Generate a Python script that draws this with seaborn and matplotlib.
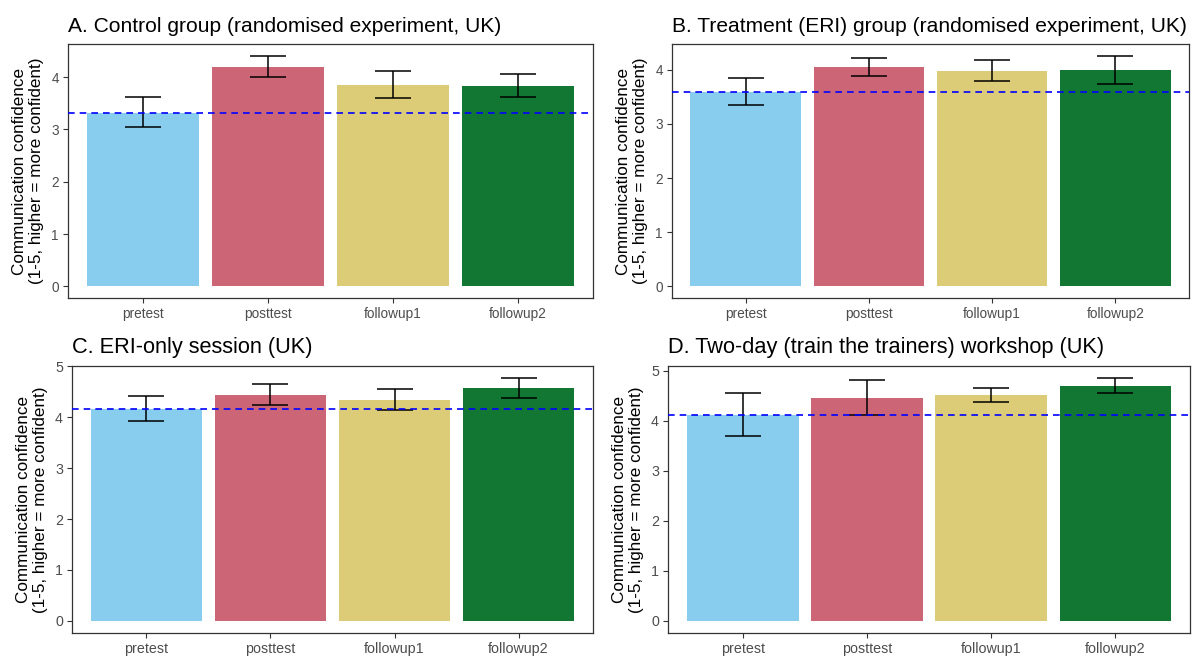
import numpy as np
import pandas as pd
import matplotlib
matplotlib.use("Agg")
import matplotlib.pyplot as plt
import seaborn as sns

# Time points and colours
timepoints = ["pretest", "posttest", "followup1", "followup2"]
bar_colors = ["#88CCEE", "#CC6677", "#DDCC77", "#117733"]

# Panel titles
titles = [
    "A. Control group (randomised experiment, UK)",
    "B. Treatment (ERI) group (randomised experiment, UK)",
    "C. ERI-only session (UK)",
    "D. Two-day (train the trainers) workshop (UK)",
]

# Means and confidence interval bounds for each panel
means_a = [3.32, 4.20, 3.84, 3.83]
lower_a = [3.04, 4.00, 3.59, 3.62]
upper_a = [3.61, 4.41, 4.11, 4.05]

means_b = [3.59, 4.05, 3.98, 3.99]
lower_b = [3.34, 3.89, 3.79, 3.74]
upper_b = [3.85, 4.22, 4.18, 4.26]

means_c = [4.17, 4.44, 4.35, 4.57]
lower_c = [3.93, 4.24, 4.15, 4.38]
upper_c = [4.41, 4.65, 4.56, 4.77]

means_d = [4.12, 4.46, 4.52, 4.70]
lower_d = [3.70, 4.12, 4.37, 4.55]
upper_d = [4.55, 4.82, 4.66, 4.85]

panels = [
    (means_a, lower_a, upper_a),
    (means_b, lower_b, upper_b),
    (means_c, lower_c, upper_c),
    (means_d, lower_d, upper_d),
]

ylabel = "Communication confidence\n(1-5, higher = more confident)"

sns.set_theme(style="white")
plt.rcParams["font.family"] = ["Liberation Sans", "DejaVu Sans"]

fig = plt.figure(figsize=(11.97, 6.57), dpi=100)
W, H = 1197, 657
# axes boxes in pixels: left, top, right, bottom
boxes = [
    (68, 44, 593, 298),
    (672, 44, 1189, 298),
    (72, 366, 593, 633),
    (668, 366, 1190, 633),
]
# text sizes per panel: title, axis label, tick labels
sizes = [
    (15.1, 12.3, 9.8),
    (15.1, 12.3, 9.8),
    (15.7, 12.3, 10.3),
    (15.7, 12.3, 10.3),
]

for (means, lo, hi), title, (l, t, r, b), (ts, ls, ks) in zip(panels, titles, boxes, sizes):
    ax = fig.add_axes([l / W, 1 - b / H, (r - l) / W, (b - t) / H])
    df = pd.DataFrame({"time": timepoints, "mean": means})
    sns.barplot(data=df, x="time", y="mean", hue="time", palette=bar_colors,
                order=timepoints, hue_order=timepoints, width=0.9,
                legend=False, ax=ax, linewidth=0, saturation=1)
    m = np.array(means)
    ax.errorbar(np.arange(len(timepoints)), m,
                yerr=[m - np.array(lo), np.array(hi) - m],
                fmt="none", ecolor="black", elinewidth=1.1,
                capsize=13, capthick=1.1, zorder=5)
    ax.axhline(means[0], color="blue", linestyle=(0, (4, 3)), linewidth=1.2, zorder=6)

    top = max(hi)
    pad = 0.05 * top
    ax.set_ylim(-pad, top + pad)
    ax.set_xlim(-0.6, len(timepoints) - 0.4)
    ax.set_yticks(range(0, int(np.floor(top + pad)) + 1))

    ax.set_xlabel("")
    ax.set_ylabel(ylabel, fontsize=ls, color="black", labelpad=5)
    ax.set_title(title, fontsize=ts, loc="left", pad=9, color="black")
    ax.tick_params(axis="both", which="both", length=3.5, width=0.8,
                   color="#333333", labelsize=ks, labelcolor="#4D4D4D",
                   bottom=True, left=True, pad=3)
    for s in ax.spines.values():
        s.set_color("#333333")
        s.set_linewidth(0.9)
    ax.grid(False)

fig.savefig("out.png", dpi=100, facecolor="white")
